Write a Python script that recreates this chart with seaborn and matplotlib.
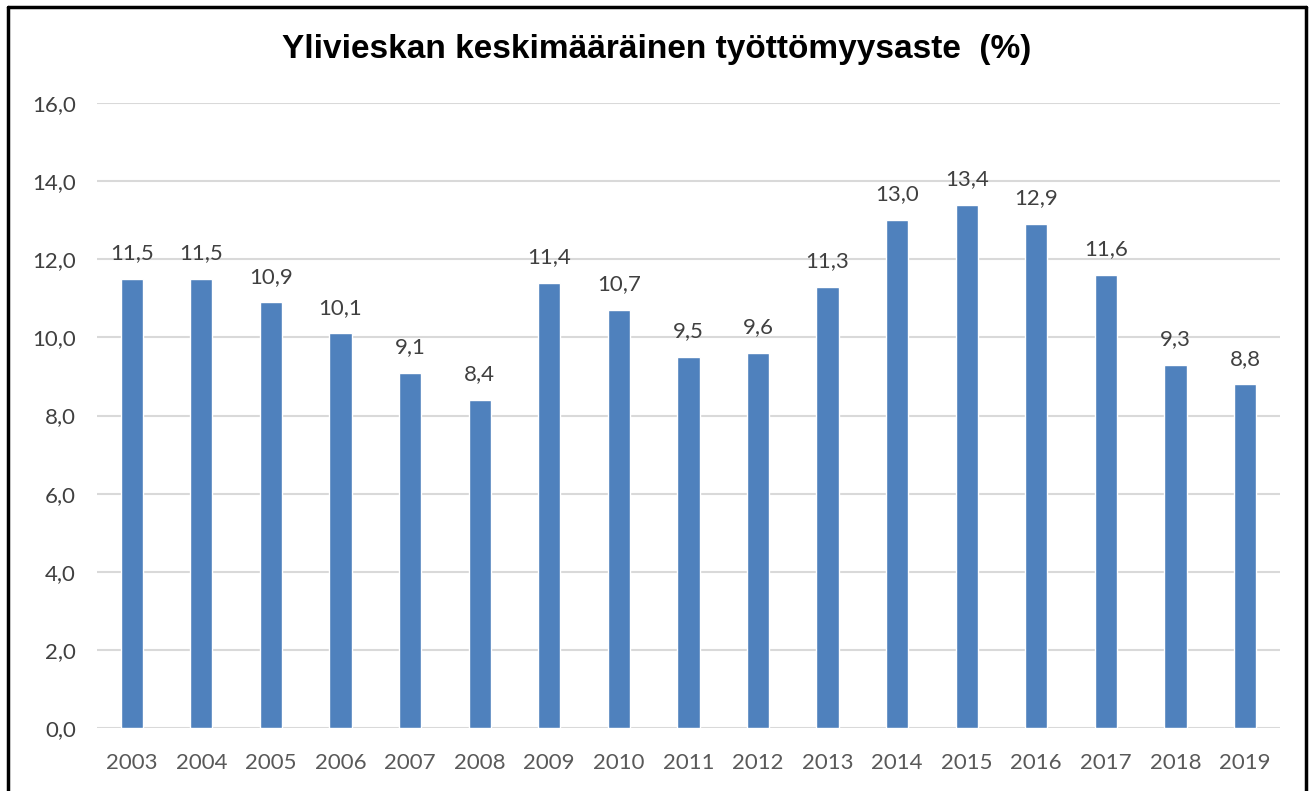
import matplotlib
matplotlib.use("Agg")
import matplotlib.pyplot as plt
from matplotlib.lines import Line2D
import seaborn as sns
import pandas as pd

# Data
years = [str(y) for y in range(2003, 2020)]
rates = [11.5, 11.5, 10.9, 10.1, 9.1, 8.4, 11.4, 10.7, 9.5, 9.6,
         11.3, 13.0, 13.4, 12.9, 11.6, 9.3, 8.8]
title = "Ylivieskan keskimääräinen työttömyysaste  (%)"

df = pd.DataFrame({"vuosi": years, "aste": rates})

sns.set_theme(style="white")
plt.rcParams["font.family"] = ["Lato", "DejaVu Sans"]

fig = plt.figure(figsize=(13.14, 7.91), dpi=100)
ax = fig.add_axes([0.0738, 0.0796, 0.9002, 0.7902])

sns.barplot(data=df, x="vuosi", y="aste", color="#4F81BD", saturation=1,
            width=0.32, ax=ax, zorder=3)

ax.set_ylim(0, 16)
ax.set_yticks(range(0, 17, 2))
ax.set_yticklabels([f"{v:.1f}".replace(".", ",") for v in range(0, 17, 2)],
                   fontsize=16, color="#404040")
ax.tick_params(axis="x", labelsize=16, labelcolor="#595959", pad=18, length=0)
ax.tick_params(axis="y", pad=15, length=0)
ax.yaxis.grid(True, color="#D9D9D9", linewidth=1.5, zorder=0)
ax.set_xlabel("")
ax.set_ylabel("")
sns.despine(ax=ax, left=True, bottom=True, top=True, right=True)

# value labels
for i, v in enumerate(rates):
    ax.text(i, v + 0.4, f"{v:.1f}".replace(".", ","), ha="center", va="bottom",
            fontsize=16, color="#404040")

fig.text(0.5, 0.938, title, ha="center", va="center", fontsize=24,
         fontweight="bold", color="black", family=["Liberation Sans", "DejaVu Sans"])

# chart frame
x0, x1 = 8 / 1314, 1306 / 1314
y_top = 1 - 7 / 791
for xs, ys in [([x0, x0], [-0.01, y_top]), ([x1, x1], [-0.01, y_top]),
               ([x0, x1], [y_top, y_top])]:
    fig.add_artist(Line2D(xs, ys, color="black", linewidth=2.5,
                          transform=fig.transFigure))

fig.savefig("out.png", dpi=100)
